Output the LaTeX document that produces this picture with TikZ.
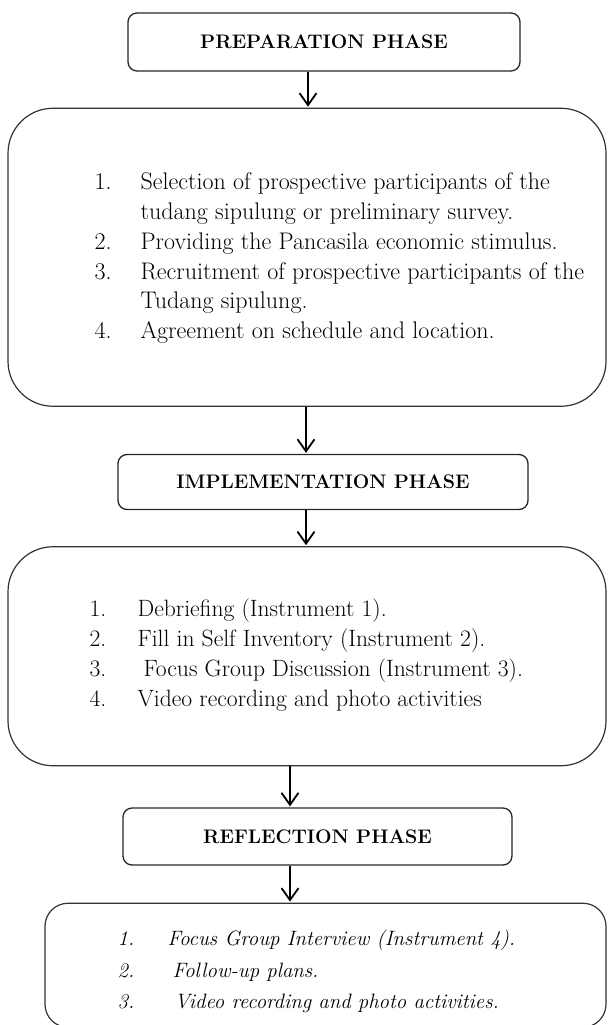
\documentclass[tikz,border=0pt]{standalone}
\usepackage{amsmath}
\usepackage{tikz}
\usetikzlibrary{arrows.meta,positioning,calc}
\tikzset{phase/.style={draw=black!85, line width=1.3pt, rectangle, rounded corners=9pt, inner sep=2pt,
                       font=\fontsize{19.6}{22}\selectfont\bfseries},
         stage/.style={draw=black!80, line width=1.2pt, rectangle, rounded corners=45pt, inner sep=0pt},
         items/.style={inner sep=0pt, anchor=base west, align=left},
         flow/.style={-{Straight Barb[length=12pt,width=17pt,line width=1.8pt]}, line width=1.8pt, shorten >=1pt}}

\begin{document}
\begin{tikzpicture}[x=1pt, y=-1pt]
\useasboundingbox (0,0) rectangle (608,1025);
% phases and their steps
\node[phase, minimum width=392pt, minimum height=58pt] (prep) at (324,42) {PREPARATION PHASE};
\node[stage, minimum width=598pt, minimum height=298pt, below=36pt of prep, xshift=-17pt] (box1) {};
\node[phase, minimum width=410pt, minimum height=55pt, below=47pt of box1, xshift=16pt] (impl) {IMPLEMENTATION PHASE};
\node[stage, minimum width=598pt, minimum height=219pt, below=36pt of impl, xshift=-16pt] (box2) {};
\node[phase, minimum width=389pt, minimum height=57pt, below=41pt of box2, xshift=10.5pt] (refl) {REFLECTION PHASE};
\node[stage, rounded corners=23pt, minimum width=561pt, minimum height=124pt, below=37pt of refl, xshift=8pt] (box3) {};

% lists
\node[items, font=\fontsize{24}{29.8}\selectfont] (list1) at ([shift={(87,82)}]box1.north west)
  {\begin{tabular}[t]{@{}p{46pt}@{}l@{}}
   1. & Selection of prospective participants of the\\
      & tudang sipulung or preliminary survey.\\
   2. & Providing the Pancasila economic stimulus.\\
   3. & Recruitment of prospective participants of the\\
      & Tudang sipulung.\\
   4. & Agreement on schedule and location.
   \end{tabular}};
\node[items, font=\fontsize{23.6}{30}\selectfont] (list2) at ([shift={(82,70)}]box2.north west)
  {\begin{tabular}[t]{@{}p{48pt}@{}l@{}}
   1. & Debriefing (Instrument 1).\\
   2. & Fill in Self Inventory (Instrument 2).\\
   3. & \hspace{6pt}Focus Group Discussion (Instrument 3).\\
   4. & Video recording and photo activities
   \end{tabular}};
\node[items, font=\fontsize{20.8}{31.5}\selectfont\itshape] (list3) at ([shift={(73,43)}]box3.north west)
  {\begin{tabular}[t]{@{}p{50pt}@{}l@{}}
   1. & Focus Group Interview (Instrument 4).\\
   2. & \hspace{5pt}Follow-up plans.\\
   3. & \hspace{7pt}Video recording and photo activities.
   \end{tabular}};

% arrows
\draw[flow] ([xshift=-16pt]prep.south) -- ([xshift=-16pt]prep.south |- box1.north);
\draw[flow] ([xshift=-1pt]box1.south) -- ([xshift=-1pt]box1.south |- impl.north);
\draw[flow] ([xshift=-17pt]impl.south) -- ([xshift=-17pt]impl.south |- box2.north);
\draw[flow] ([xshift=-17pt]box2.south) -- ([xshift=-17pt]box2.south |- refl.north);
\draw[flow] ([xshift=-27.5pt]refl.south) -- ([xshift=-27.5pt]refl.south |- box3.north);
\end{tikzpicture}
\end{document}
